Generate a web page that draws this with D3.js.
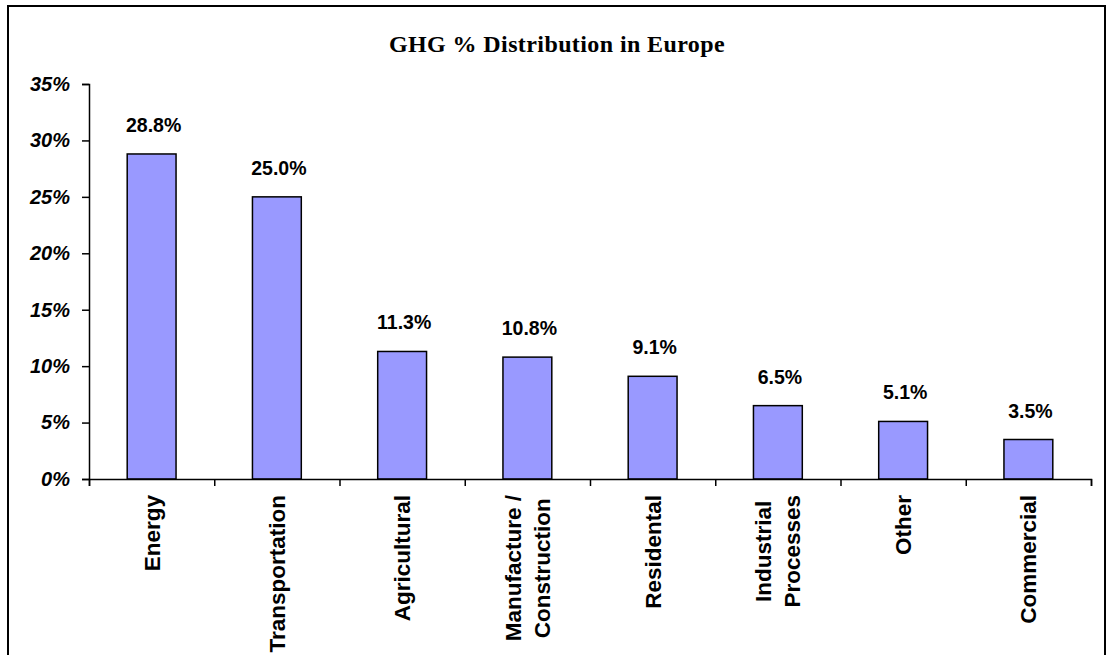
<!DOCTYPE html>
<html>
<head>
<meta charset="utf-8">
<script src="https://cdn.jsdelivr.net/npm/d3@7"></script>
<style>
  body { margin: 0; background: #fff; }
  svg { display: block; }
</style>
</head>
<body>
<div id="chart"></div>
<script>
// data
let categories = ["Energy", "Transportation", "Agricultural", "Manufacture /\nConstruction",
                  "Residental", "Industrial\nProcesses", "Other", "Commercial"];
let shares = [28.8, 25.0, 11.3, 10.8, 9.1, 6.5, 5.1, 3.5];
let yTicks = [0, 5, 10, 15, 20, 25, 30, 35];
let title = "GHG % Distribution in Europe";

(function(){
    let W = 1109, H = 655;
    let margin = {top: 84, right: 18, bottom: 176, left: 89};
    let width = W - margin.left - margin.right;
    let height = H - margin.top - margin.bottom;

    let svg = d3.select("#chart").append("svg")
        .attr("width", W)
        .attr("height", H);

    // outer frame of the chart area
    svg.append("rect")
        .attr("x", 8).attr("y", 6)
        .attr("width", 1097).attr("height", 700)
        .attr("fill", "none")
        .attr("stroke", "#000")
        .attr("stroke-width", 2);

    svg.append("text")
        .attr("x", 557).attr("y", 52)
        .attr("text-anchor", "middle")
        .style("font-family", "'Liberation Serif','Times New Roman',serif")
        .style("font-weight", "bold")
        .style("font-size", "24px")
        .style("letter-spacing", "0.4px")
        .text(title);

    let g = svg.append("g")
        .attr("transform", "translate(" + margin.left + "," + margin.top + ")");

    let x = d3.scaleBand()
        .domain(categories)
        .range([0, width])
        .paddingInner(0.61)
        .paddingOuter(0.305);
    let step = x.step();

    let y = d3.scaleLinear()
        .domain([0, 35])
        .range([height, 0]);

    // bars
    g.selectAll("rect.bar")
        .data(shares)
        .enter().append("rect")
        .attr("class", "bar")
        .attr("x", function(d, i){ return x(categories[i]); })
        .attr("y", function(d){ return y(d); })
        .attr("width", x.bandwidth())
        .attr("height", function(d){ return height - y(d); })
        .attr("fill", "#9999ff")
        .attr("stroke", "#000")
        .attr("stroke-width", 1.5);

    // value labels
    g.selectAll("text.val")
        .data(shares)
        .enter().append("text")
        .attr("class", "val")
        .attr("x", function(d, i){ return x(categories[i]) + x.bandwidth() / 2 + 2; })
        .attr("y", function(d){ return y(d) - 22; })
        .attr("text-anchor", "middle")
        .style("font-family", "'Liberation Sans',Arial,sans-serif")
        .style("font-weight", "bold")
        .style("font-size", "19.5px")
        .text(function(d){ return d.toFixed(1) + "%"; });

    // y axis
    let yAxis = g.append("g")
        .call(d3.axisLeft(y)
            .tickValues(yTicks)
            .tickSize(7)
            .tickPadding(12)
            .tickFormat(function(d){ return d + "%"; }));
    yAxis.selectAll("text")
        .style("font-family", "'Liberation Sans',Arial,sans-serif")
        .style("font-weight", "bold")
        .style("font-style", "italic")
        .style("font-size", "20px")
        .attr("fill", "#000");

    // x axis: ticks sit between the categories
    let xTickPos = d3.range(categories.length + 1).map(function(i){ return i * step; });
    let xAxis = g.append("g")
        .attr("transform", "translate(0," + height + ")")
        .call(d3.axisBottom(d3.scaleLinear().domain([0, width]).range([0, width]))
            .tickValues(xTickPos)
            .tickSize(7)
            .tickFormat(""));

    [yAxis, xAxis].forEach(function(a){
        a.select(".domain").attr("stroke", "#000").attr("stroke-width", 1.5);
        a.selectAll(".tick line").attr("stroke", "#000").attr("stroke-width", 1.5);
    });

    // category labels, rotated, multi-line ones centered against each other
    let labelTop = height + 16;
    categories.forEach(function(cat){
        let lines = cat.split("\n");
        let cx = x(cat) + x.bandwidth() / 2;
        let lineGap = 29;
        let texts = lines.map(function(line, li){
            let off = (li - (lines.length - 1) / 2) * lineGap;
            return g.append("text")
                .attr("text-anchor", "middle")
                .attr("dy", "0.35em")
                .style("font-family", "'Liberation Sans',Arial,sans-serif")
                .style("font-weight", "bold")
                .style("font-size", "22.5px")
                .attr("data-off", off)
                .text(line);
        });
        let maxLen = d3.max(texts, function(t){ return t.node().getComputedTextLength(); });
        texts.forEach(function(t){
            let off = +t.attr("data-off");
            let ty = labelTop + maxLen / 2;
            t.attr("transform", "translate(" + (cx + off) + "," + ty + ") rotate(-90)");
        });
    });
})();
</script>
</body>
</html>
